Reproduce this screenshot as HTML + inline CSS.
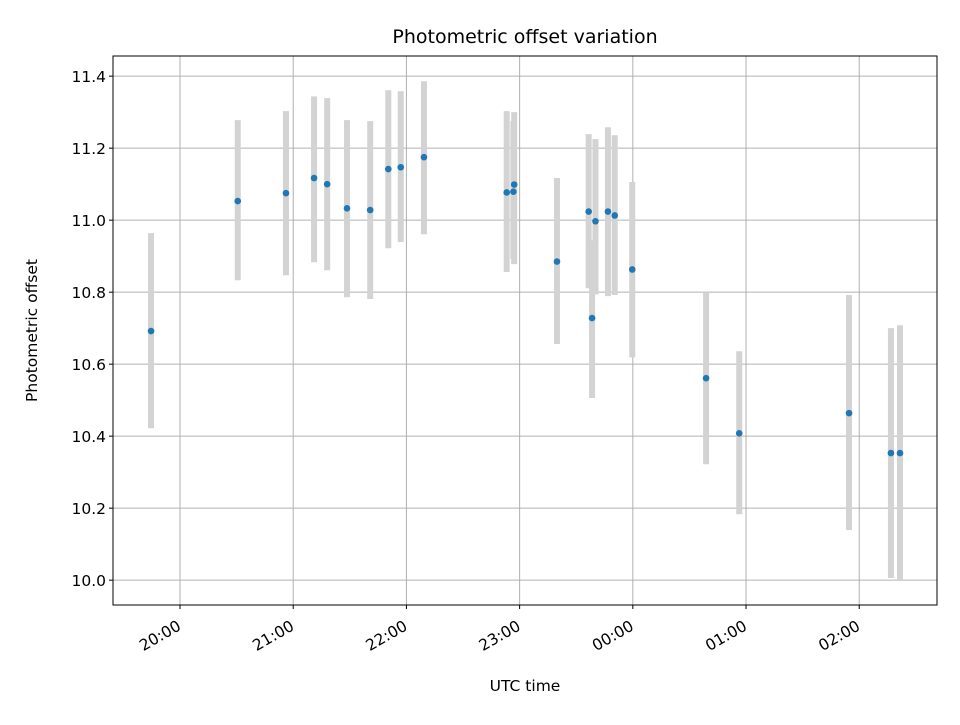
<!DOCTYPE html>
<html><head><meta charset="utf-8"><style>
body{margin:0;background:#fff;}
svg text{font-family:"DejaVu Sans","Liberation Sans",sans-serif;fill:#000;}
</style></head><body>
<svg id="chart" width="960" height="720" xmlns="http://www.w3.org/2000/svg"></svg>
<script>
const times=[19.744,20.51,20.936,21.184,21.30,21.475,21.68,21.84,21.95,22.155,22.886,22.945,22.952,23.33,23.61,23.64,23.67,23.78,23.84,23.995,24.647,24.94,25.91,26.28,26.36];
const values=[10.692,11.053,11.075,11.117,11.1,11.033,11.028,11.142,11.147,11.175,11.077,11.079,11.099,10.885,11.024,10.728,10.997,11.024,11.013,10.863,10.561,10.408,10.464,10.353,10.353];
const upper=[10.964,11.278,11.303,11.344,11.339,11.278,11.275,11.361,11.358,11.386,11.303,11.275,11.3,11.117,11.239,10.944,11.225,11.258,11.236,11.106,10.8,10.636,10.792,10.7,10.708];
const lower=[10.422,10.833,10.847,10.883,10.861,10.786,10.781,10.922,10.939,10.961,10.856,10.892,10.878,10.656,10.811,10.506,10.794,10.789,10.792,10.619,10.322,10.183,10.139,10.006,10.0];
const yTicks=[10.0,10.2,10.4,10.6,10.8,11.0,11.2,11.4];
const xTicks=[20,21,22,23,24,25,26];
const xTickLabels=["20:00","21:00","22:00","23:00","00:00","01:00","02:00"];
const L=113,R=937,T=56,B=605,x0=19.408,x1=26.687,y0=9.931,y1=11.456;
const X=v=>L+(v-x0)/(x1-x0)*(R-L);
const Y=v=>B-(v-y0)/(y1-y0)*(B-T);
const svg=document.getElementById('chart');
const NS='http://www.w3.org/2000/svg';
function mk(tag,attrs,parent){const e=document.createElementNS(NS,tag);for(const k in attrs)e.setAttribute(k,attrs[k]);(parent||svg).appendChild(e);return e;}
const grid=mk('g',{});


xTicks.forEach(t=>{mk('line',{x1:X(t),x2:X(t),y1:T,y2:B,stroke:'#b0b0b0','stroke-width':1},grid);});
yTicks.forEach(t=>{mk('line',{x1:L,x2:R,y1:Y(t),y2:Y(t),stroke:'#b0b0b0','stroke-width':1},grid);});
const bars=mk('g',{});


times.forEach((t,i)=>{const e=mk('line',{x1:X(t),x2:X(t),y1:Y(upper[i]),y2:Y(lower[i]),stroke:'#d3d3d3','stroke-width':6},bars);

});
const pts=mk('g',{});


times.forEach((t,i)=>{const c=mk('circle',{cx:X(t),cy:Y(values[i]),r:3.3,fill:'#1f77b4'},pts);

});
const frame=mk('rect',{x:L,y:T,width:R-L,height:B-T,fill:'none',stroke:'#000','stroke-width':1});


yTicks.forEach(t=>{mk('line',{x1:L-4,x2:L,y1:Y(t),y2:Y(t),stroke:'#000'});
const tx=mk('text',{x:L-7,y:Y(t)+6,'text-anchor':'end','font-size':'15.5'});tx.textContent=t.toFixed(1);

});
xTicks.forEach((t,i)=>{mk('line',{x1:X(t),x2:X(t),y1:B,y2:B+4,stroke:'#000'});
const ax=X(t)+2, ay=B+24;
const tx=mk('text',{x:ax,y:ay,'text-anchor':'end','font-size':'15.5',transform:`rotate(-30 ${ax} ${ay})`});tx.textContent=xTickLabels[i];

});
const tt=mk('text',{x:(L+R)/2,y:43,'text-anchor':'middle','font-size':'19'});tt.textContent='Photometric offset variation';


const xt=mk('text',{x:(L+R)/2,y:691,'text-anchor':'middle','font-size':'15.5'});xt.textContent='UTC time';


const yt=mk('text',{x:37,y:(T+B)/2,'text-anchor':'middle','font-size':'15.5',transform:`rotate(-90 37 ${(T+B)/2})`});yt.textContent='Photometric offset';


</script>
</body></html>
